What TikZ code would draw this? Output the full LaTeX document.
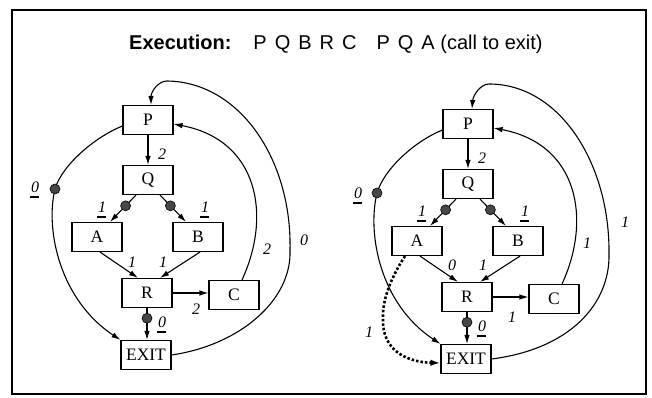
\documentclass[tikz,border=0pt]{standalone}
\usepackage{fontspec}
\setmainfont{Liberation Serif}
\setsansfont{Liberation Sans}
\usetikzlibrary{arrows.meta}
\newcommand\ulab[1]{\textit{#1}\llap{\rule[-5pt]{9pt}{1.8pt}}}
\newcommand\tsp{\hspace{8pt}}
\begin{document}
\begin{tikzpicture}[x=1pt,y=-1pt,
  box/.style={draw,line width=1.1pt,minimum width=50pt,minimum height=29pt,inner sep=0pt,font=\fontsize{17.5}{17.5}\selectfont},
  edge/.style={draw,line width=1.1pt,-{Latex[length=9pt,width=5.5pt]}},
  blob/.style={circle,draw=black,fill=black!72,line width=0.6pt,minimum size=10pt,inner sep=0pt},
  lab/.style={font=\fontsize{16}{16}\selectfont\itshape,inner sep=1pt},
  dotline/.style={draw,line width=2.6pt,dash pattern=on 2.5pt off 2pt,-{Latex[length=10pt,width=6.5pt]}},
]
\useasboundingbox (0,0) rectangle (652,398);
\draw[line width=1.3pt] (12,10) rectangle (646,394);
\node[font=\fontsize{20}{24}\selectfont\sffamily,anchor=base west,inner sep=0pt] (title) at (129,50) {\textbf{Execution:}\hspace{22pt}P\tsp Q\tsp B\tsp R\tsp C\hspace{20pt}P\tsp Q\tsp A (call to exit)};

% ---------- left graph ----------
\node[box] (P1) at (148,120) {P};
\node[box] (Q1) at (148,180) {Q};
\node[box] (A1) at (97,237) {A};
\node[box] (B1) at (198,237) {B};
\node[box] (R1) at (147,293) {R};
\node[box] (C1) at (234,295) {C};
\node[box] (E1) at (146,355) {EXIT};
\coordinate (d1a) at (55,189);

\draw[edge] (P1) -- (Q1);
\draw[edge] ([xshift=-12pt]Q1.south) -- node[blob,pos=0.4] (d1q) {} ([xshift=13pt]A1.north);
\draw[edge] ([xshift=12pt]Q1.south) -- node[blob,pos=0.4] (d1b) {} ([xshift=-12pt]B1.north);
\draw[edge] ([xshift=3pt]A1.south) -- ([xshift=-9pt]R1.north);
\draw[edge] ([xshift=2pt]B1.south) -- ([xshift=13pt]R1.north);
\draw[edge] (R1.east) -- (R1.east -| C1.west);
\draw[edge] (R1.south) -- node[blob,pos=0.32] (d1r) {} (R1.south |- E1.north);
\draw[edge] ([yshift=-6pt]P1.west) .. controls (95,137) and (62,165) .. (d1a) .. controls (45,230) and (60,300) .. (E1.north west);
\node[blob] (d1p) at (d1a) {};
\draw[edge] (E1.east) .. controls (240,345) and (292,300) .. (290,250) .. controls (292,160) and (240,82) .. (167,81) .. controls (158,81) and (151,92) .. ([xshift=3pt]P1.north);
\draw[edge] ([xshift=8pt]C1.north) .. controls (272,215) and (258,140) .. ([yshift=-4pt]P1.east);

\node[lab] (l1pq) at (162,154) {2};
\node[lab] (l1qa) at (102,210) {\ulab{1}};
\node[lab] (l1qb) at (205,210) {\ulab{1}};
\node[lab] (l1ar) at (132,262) {1};
\node[lab] (l1br) at (163,262) {1};
\node[lab] (l1rc) at (196,309) {2};
\node[lab] (l1cp) at (267,249) {2};
\node[lab] (l1ep) at (304,240) {0};
\node[lab] (l1pe) at (35,190) {\ulab{0}};
\node[lab] (l1re) at (162,325) {\ulab{0}};

% ---------- right graph ----------
\begin{scope}[shift={(320,4)}]
\node[box] (P2) at (148,120) {P};
\node[box] (Q2) at (148,180) {Q};
\node[box] (A2) at (97,237) {A};
\node[box] (B2) at (198,237) {B};
\node[box] (R2) at (147,293) {R};
\node[box] (C2) at (234,295) {C};
\node[box] (E2) at (146,355) {EXIT};
\coordinate (d2a) at (57,189);
\coordinate (k2) at (63,315);

\draw[edge] (P2) -- (Q2);
\draw[edge] ([xshift=-12pt]Q2.south) -- node[blob,pos=0.4] (d2q) {} ([xshift=13pt]A2.north);
\draw[edge] ([xshift=12pt]Q2.south) -- node[blob,pos=0.4] (d2b) {} ([xshift=-12pt]B2.north);
\draw[edge] ([xshift=3pt]A2.south) -- ([xshift=-9pt]R2.north);
\draw[edge] ([xshift=2pt]B2.south) -- ([xshift=13pt]R2.north);
\draw[edge] (R2.east) -- (R2.east -| C2.west);
\draw[edge] (R2.south) -- node[blob,pos=0.32] (d2r) {} (R2.south |- E2.north);
\draw[edge] ([yshift=-6pt]P2.west) .. controls (95,137) and (64,165) .. (d2a) .. controls (47,230) and (60,300) .. (E2.north west);
\node[blob] (d2p) at (d2a) {};
\draw[edge] (E2.east) .. controls (250,345) and (290,300) .. (289,250) .. controls (290,160) and (240,80) .. (169,80) .. controls (160,80) and (153,92) .. ([xshift=4pt]P2.north);
\draw[edge] ([xshift=8pt]C2.north) .. controls (272,215) and (258,140) .. ([yshift=-4pt]P2.east);
\draw[dotline] ([xshift=-12pt]A2.south) .. controls (72,272) and (62,295) .. (k2) .. controls (62,345) and (85,358) .. ([yshift=-4pt]E2.west);

\node[lab] (l2pq) at (162,154) {2};
\node[lab] (l2qa) at (102,210) {\ulab{1}};
\node[lab] (l2qb) at (205,210) {\ulab{1}};
\node[lab] (l2ar) at (132,261) {0};
\node[lab] (l2br) at (163,261) {1};
\node[lab] (l2rc) at (192,313) {1};
\node[lab] (l2cp) at (267,239) {1};
\node[lab] (l2ep) at (305,218) {1};
\node[lab] (l2pe) at (38,192) {\ulab{0}};
\node[lab] (l2re) at (162,325) {\ulab{0}};
\node[lab] (l2ae) at (49,328) {1};
\end{scope}
\end{tikzpicture}
\end{document}
